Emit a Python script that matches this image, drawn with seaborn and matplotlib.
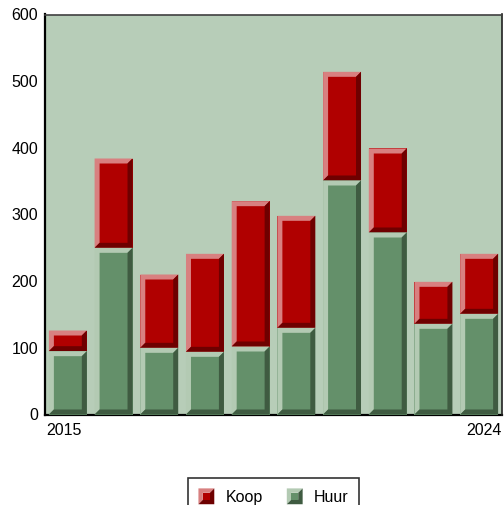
#!/usr/bin/env python3
"""
Stacked bar chart of Huur / Koop per year, with bevelled bars.
"""

import matplotlib

matplotlib.use("Agg")

import matplotlib.pyplot as plt
import pandas as pd
import seaborn as sns
from matplotlib.legend_handler import HandlerBase
from matplotlib.patches import Patch, Polygon

years = ["2015", "2016", "2017", "2018", "2019", "2020", "2021", "2022", "2023", "2024"]
huur = [95, 250, 100, 94, 102, 130, 351, 273, 136, 151]
koop = [31, 134, 110, 147, 218, 168, 163, 126, 63, 90]
y_ticks = [0, 100, 200, 300, 400, 500, 600]

# colours: (face, light bevel, dark bevel)
RED = ("#b00000", "#d88080", "#6e0000")
GREEN = ("#64906a", "#b3cab3", "#3f5b41")
BG = "#b7cdb8"
BEVEL_PX = 5.0

sns.set_style("white")
plt.rcParams["font.family"] = ["Liberation Sans", "DejaVu Sans"]
plt.rcParams["text.color"] = "black"
plt.rcParams["xtick.color"] = "black"
plt.rcParams["ytick.color"] = "black"

df = pd.DataFrame({"year": years, "huur": huur, "koop": koop})
df["total"] = df["huur"] + df["koop"]

fig = plt.figure(figsize=(5.04, 5.05), dpi=100)
ax = fig.add_axes([45 / 504, (505 - 414.5) / 505, 457 / 504, 400 / 505])
ax.set_facecolor(BG)

sns.barplot(data=df, x="year", y="total", color=RED[0], saturation=1,
            width=0.83, linewidth=0, ax=ax, zorder=3)
sns.barplot(data=df, x="year", y="huur", color=GREEN[0], saturation=1,
            width=0.83, linewidth=0, ax=ax, zorder=3)

ax.set_xlim(-0.5, 9.5)
ax.set_ylim(0, 600)


def bevel(ax, x0, x1, y0, y1, colors, z=3.5):
    # convert bevel thickness from pixels to data units
    bbox = ax.get_window_extent()
    xl, xr = ax.get_xlim()
    yb, yt = ax.get_ylim()
    dx = BEVEL_PX * (xr - xl) / bbox.width
    dy = BEVEL_PX * (yt - yb) / bbox.height
    light = [(x0, y0), (x0, y1), (x1, y1), (x1 - dx, y1 - dy),
             (x0 + dx, y1 - dy), (x0 + dx, y0 + dy)]
    dark = [(x1, y1), (x1, y0), (x0, y0), (x0 + dx, y0 + dy),
            (x1 - dx, y0 + dy), (x1 - dx, y1 - dy)]
    ax.add_patch(Polygon(light, closed=True, facecolor=colors[1],
                         edgecolor="none", zorder=z))
    ax.add_patch(Polygon(dark, closed=True, facecolor=colors[2],
                         edgecolor="none", zorder=z))


bars = [p for p in ax.patches]
n = len(years)
red_bars, green_bars = bars[:n], bars[n:2 * n]
for rb, gb in zip(red_bars, green_bars):
    x0, w = rb.get_x(), rb.get_width()
    bevel(ax, x0, x0 + w, gb.get_height(), rb.get_height(), RED)
    bevel(ax, x0, x0 + w, 0, gb.get_height(), GREEN)

ax.set_xlabel("")
ax.set_ylabel("")
ax.set_yticks(y_ticks)
ax.set_yticklabels([str(t) for t in y_ticks], fontsize=11.5)
ax.set_xticks([-0.47, 9.5])
ax.set_xticklabels([years[0], years[-1]], fontsize=11.5)
xlabels = ax.get_xticklabels()
xlabels[0].set_ha("left")
xlabels[1].set_ha("right")
ax.tick_params(axis="both", length=0, pad=6)
ax.tick_params(axis="y", pad=5)

for side in ["left", "bottom"]:
    ax.spines[side].set_color("black")
    ax.spines[side].set_linewidth(1.6)
ax.spines["top"].set_color("#404040")
ax.spines["top"].set_linewidth(1.2)
ax.spines["right"].set_color("#202020")
ax.spines["right"].set_linewidth(1.2)
ax.spines["bottom"].set_zorder(2)


class HandlerBevel(HandlerBase):
    def create_artists(self, legend, orig_handle, xdescent, ydescent,
                       width, height, fontsize, trans):
        colors = orig_handle.colors
        s = min(width, height)
        x0, y0 = -xdescent, -ydescent + (height - s) / 2
        x1, y1 = x0 + s, y0 + s
        d = s * 0.28
        light = [(x0, y0), (x0, y1), (x1, y1), (x1 - d, y1 - d),
                 (x0 + d, y1 - d), (x0 + d, y0 + d)]
        dark = [(x1, y1), (x1, y0), (x0, y0), (x0 + d, y0 + d),
                (x1 - d, y0 + d), (x1 - d, y1 - d)]
        inner = [(x0 + d, y0 + d), (x0 + d, y1 - d), (x1 - d, y1 - d),
                 (x1 - d, y0 + d)]
        arts = []
        for pts, c in [(light, colors[1]), (dark, colors[2]), (inner, colors[0])]:
            p = Polygon(pts, closed=True, facecolor=c, edgecolor="none",
                        transform=trans)
            arts.append(p)
        return arts


h_koop = Patch(label="Koop")
h_koop.colors = RED
h_huur = Patch(label="Huur")
h_huur.colors = GREEN

leg = fig.legend(
    handles=[h_koop, h_huur],
    loc="upper center",
    bbox_to_anchor=(273.5 / 504, 1 - 478 / 505),
    borderaxespad=0,
    ncol=2,
    fontsize=11.5,
    frameon=True,
    fancybox=False,
    edgecolor="black",
    handlelength=1.15,
    handleheight=1.15,
    handletextpad=0.55,
    columnspacing=1.5,
    borderpad=0.65,
    handler_map={Patch: HandlerBevel()},
)
leg.get_frame().set_linewidth(1.2)

fig.savefig("out.png", dpi=100)
